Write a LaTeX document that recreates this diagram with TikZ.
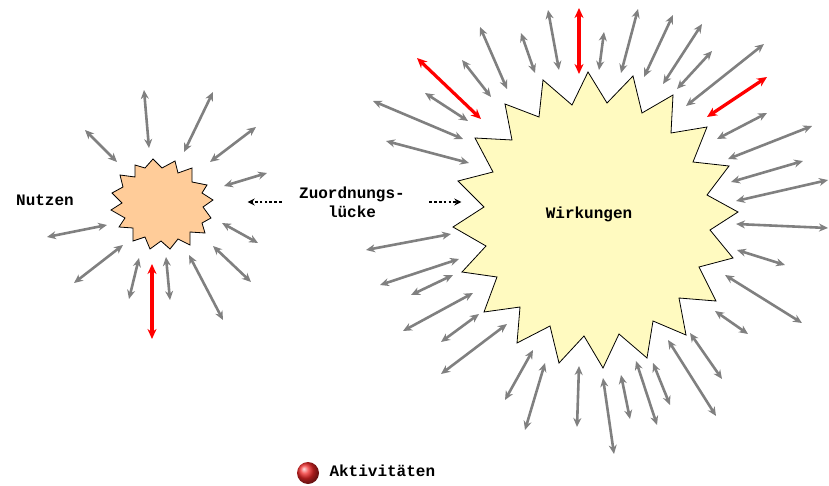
\documentclass[tikz,border=0pt]{standalone}
\usepackage{fontspec}
\setmonofont{Liberation Mono}
\usetikzlibrary{arrows.meta}
\definecolor{arrowgray}{RGB}{128,128,128}
\definecolor{peach}{RGB}{255,204,153}
\definecolor{paleyellow}{RGB}{255,250,192}
\definecolor{ballred}{RGB}{240,40,40}
\begin{document}
\begin{tikzpicture}[x=1pt, y=-1pt]

\tikzstyle{star1}=[draw=black, line width=0.8pt, fill=peach, line join=miter]
\tikzstyle{star2}=[draw=black, line width=0.8pt, fill=paleyellow, line join=miter]
\tikzstyle{biarrow}=[{Stealth[length=9pt,width=8pt]}-{Stealth[length=9pt,width=8pt]}, line width=2.6pt, draw=arrowgray]
\tikzstyle{redarrow}=[{Stealth[length=10pt,width=9pt]}-{Stealth[length=10pt,width=9pt]}, line width=3.2pt, draw=red]
\tikzstyle{dotarrow}=[-{Stealth[length=7pt,width=7pt]}, line width=2.6pt, dash pattern=on 2.6pt off 2.2pt]
\tikzstyle{label1}=[font=\ttfamily\bfseries\fontsize{16}{19}\selectfont, align=center]

\useasboundingbox (0,0) rectangle (829,486);

% small star
\draw[star1] (153,159) -- (162,168) -- (175,161) -- (178,173) -- (192,168) -- (192,182)
  -- (207,185) -- (202,193) -- (213,200) -- (203,207) -- (211,218) -- (202,223)
  -- (205,233) -- (190,232) -- (190,245) -- (178,239) -- (170,249) -- (161,241)
  -- (150,249) -- (145,237) -- (133,241) -- (133,228) -- (119,227) -- (125,218)
  -- (111,210) -- (122,203) -- (112,193) -- (123,187) -- (120,175) -- (135,177)
  -- (135,165) -- (145,168) -- cycle;

% big star
\draw[star2] (588,72) -- (607,103) -- (633,76) -- (642,113) -- (673,95) -- (671,133)
  -- (707,127) -- (693,162) -- (729,166) -- (707,195) -- (738,212) -- (710,230)
  -- (733,258) -- (699,267) -- (716,301) -- (679,298) -- (686,335) -- (653,321)
  -- (647,358) -- (619,334) -- (603,368) -- (584,336) -- (559,363) -- (550,326)
  -- (517,343) -- (520,307) -- (484,312) -- (497,277) -- (462,272) -- (486,246)
  -- (453,227) -- (484,207) -- (458,181) -- (493,172) -- (475,138) -- (512,140)
  -- (505,104) -- (539,117) -- (543,80) -- (572,105) -- cycle;

% arrows round the small star
\foreach \a/\b/\c/\d in {144/90/149/148, 213/92/184/152, 85/130/117/162,
    256/127/210/162, 267/173/224/186, 47/237/107/225, 222/223/258/243,
    74/283/123/245, 213/246/251/282, 139/258/129/299, 166/257/170/300,
    189/255/223/320}
  \draw[biarrow] (\a,\b) -- (\c,\d);
\draw[redarrow] (152,264) -- (152,339);

% arrows round the big star
\foreach \a/\b/\c/\d in {462/60/491/97, 480/27/507/89, 521/33/535/73,
    548/10/559/70, 604/32/599/70, 638/9/621/73, 673/15/644/77, 702/24/663/84,
    712/51/677/89, 764/44/686/106, 767/113/717/139, 812/126/728/159,
    803/161/731/182, 828/180/736/201, 828/228/736/224, 425/93/468/121,
    373/101/463/139, 386/141/469/163, 366/250/451/234,
    737/250/785/265, 725/275/802/323, 715/311/748/334, 690/333/722/379,
    668/340/716/416, 653/363/670/405, 636/361/657/425, 621/375/630/419,
    603/378/614/454, 579/366/577/427, 545/363/525/430, 533/350/505/400,
    507/324/441/374, 479/314/441/342, 473/293/403/331, 453/275/411/295,
    459/259/380/285}
  \draw[biarrow] (\a,\b) -- (\c,\d);
\draw[redarrow] (417,58) -- (481,119);
\draw[redarrow] (579,8) -- (579,74);
\draw[redarrow] (767,77) -- (707,117);

% labels
\node (nutzen) [label1] at (45,200) {Nutzen};
\node (wirkung) [label1] at (589,214) {Wirkungen};
\node (gap) [label1] at (352,202) {Zuordnungs-\\lücke};
\draw[dotarrow] ([xshift=-14pt]gap.west) -- ([xshift=-48pt]gap.west);
\draw[dotarrow] ([xshift=21pt]gap.east) -- ([xshift=53pt]gap.east);

% legend
\shade[ball color=ballred] (308,473) circle (11);
\node (akt) [label1, anchor=west] at (326,471) {Aktivitäten};

\end{tikzpicture}
\end{document}
